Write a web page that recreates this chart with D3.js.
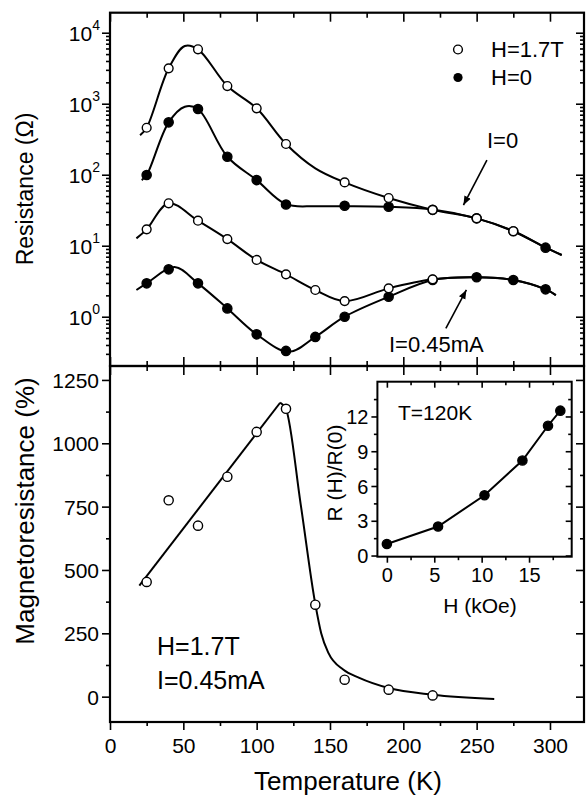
<!DOCTYPE html>
<html>
<head>
<meta charset="utf-8">
<script src="https://cdn.jsdelivr.net/npm/d3@7"></script>
<style>
  body { margin: 0; background: #fff; }
  text { font-family: "Liberation Sans", Arial, Helvetica, sans-serif; fill: #000; }
</style>
</head>
<body>
<div id="chart"></div>
<script>
// Resistance, I = 0
const tOpenI0 = [25, 40, 60, 80, 100, 120, 160, 190, 220, 250, 275];
const rOpenI0 = [459, 3150, 5840, 1775, 861, 271, 78, 47, 32, 24.3, 16];
const tFillI0 = [25, 40, 60, 80, 100, 120, 160, 190, 220, 250, 275, 297];
const rFillI0 = [99, 547, 842, 179, 84, 38, 36.5, 35.4, 32, 24.3, 16, 9.4];
// Resistance, I = 0.45 mA
const tOpenI45 = [25, 40, 60, 80, 100, 120, 140, 160, 190, 220];
const rOpenI45 = [17, 39.6, 22.5, 12.4, 6.3, 3.95, 2.38, 1.66, 2.51, 3.36];
const tFillI45 = [25, 40, 60, 80, 100, 120, 140, 160, 190, 220, 250, 275, 297];
const rFillI45 = [2.95, 4.65, 2.95, 1.31, 0.565, 0.33, 0.52, 1.0, 1.91, 3.3, 3.59, 3.29, 2.43];

// guide curves as drawn in the figure, [T, R]
const fitOpenI0 = [[20.5, 360], [25, 460], [40, 3150], [51, 6500], [60, 5840], [80, 1775], [100, 861], [120, 271], [140, 123], [160, 78], [190, 47], [220, 32], [250, 24.3], [275, 16], [297, 9.4], [308, 7.4]];
const fitFillI0 = [[21.6, 84], [25, 99], [40, 547], [51, 907], [60, 842], [80, 179], [100, 84], [120, 38.5], [140, 36], [160, 36], [190, 35.4], [220, 32.4], [250, 24.3], [275, 16.1], [297, 9.4], [308, 7.4]];
const fitOpenI45 = [[18, 12.7], [25, 17], [40, 39.6], [60, 22.5], [80, 12.4], [100, 6.3], [120, 3.95], [140, 2.38], [160, 1.66], [190, 2.51], [220, 3.36], [250, 3.59], [275, 3.29], [297, 2.43], [304, 2.02]];
const fitFillI45 = [[18, 2.38], [25, 2.95], [44, 5.0], [60, 2.95], [80, 1.31], [100, 0.565], [122, 0.32], [140, 0.52], [160, 1.0], [190, 1.91], [220, 3.3], [250, 3.59], [275, 3.29], [297, 2.43], [304, 2.02]];

// Magnetoresistance at H = 1.7 T
const tMR = [25, 40, 60, 80, 100, 120, 140, 160, 190, 220];
const mr = [453, 775, 675, 868, 1045, 1136, 363, 67, 27.6, 5];
const fitMRRise = [[20, 438], [116, 1160]];
const fitMRFall = [[116, 1160], [120, 1135], [130, 760], [140, 365], [144, 250], [149, 172], [159, 107], [170, 74], [190, 34], [220, 8], [262, -9]];

// inset: R(H)/R(0) at T = 120 K
const fieldH = [0, 5.4, 10.3, 14.3, 17.0, 18.3];
const ratio = [1.0, 2.5, 5.2, 8.2, 11.2, 12.5];

// ticks
const xMajor = [0, 50, 100, 150, 200, 250, 300];
const xMinor = [25, 75, 125, 175, 225, 275];
const rMajor = [1, 10, 100, 1000, 10000];
const mrMajor = [0, 250, 500, 750, 1000, 1250];
const mrMinor = [125, 375, 625, 875, 1125];
const hMajor = [0, 5, 10, 15];
const hMinor = [2.5, 7.5, 12.5, 17.5];
const ratioMajor = [0, 3, 6, 9, 12];
const ratioMinor = [1.5, 4.5, 7.5, 10.5, 13.5];

// annotation arrows in data units [T, R]
const arrowI0 = [[257, 161], [241, 37.4]];
const arrowI45 = [[229, 0.687], [243, 2.38]];

const svg = d3.select("#chart").append("svg")
    .attr("width", 586)
    .attr("height", 798);

const x = d3.scaleLinear().domain([0, 323.2]).range([110, 584]);
const yR = d3.scaleLog().domain([Math.pow(10, -0.694), Math.pow(10, 4.282)]).range([366, 12.7]);
const yM = d3.scaleLinear().domain([-100, 1305]).range([722, 366]);
const xi = d3.scaleLinear().domain([-1, 19.5]).range([377.4, 571.7]);
const yi = d3.scaleLinear().domain([-0.1, 15]).range([556.7, 381.7]);

const rMinor = [];
for (let k = -1; k <= 4; k++) {
    for (let m = 2; m <= 9; m++) {
        const v = m * Math.pow(10, k);
        if (v > yR.domain()[0] && v < yR.domain()[1]) rMinor.push(v);
    }
}

svg.append("defs").append("marker")
    .attr("id", "head")
    .attr("viewBox", "0 0 10 10")
    .attr("refX", 10).attr("refY", 5)
    .attr("markerWidth", 9).attr("markerHeight", 9)
    .attr("markerUnits", "userSpaceOnUse")
    .attr("orient", "auto")
    .append("path").attr("d", "M0,1 L10,5 L0,9 Z").attr("fill", "#000");

// one row of ticks, optionally labelled
function tickRow(axisFn, scale, values, size, pos, fmt) {
    const vertical = axisFn === d3.axisLeft || axisFn === d3.axisRight;
    const g = svg.append("g")
        .attr("transform", vertical ? `translate(${pos},0)` : `translate(0,${pos})`)
        .call(axisFn(scale).tickValues(values).tickSize(size).tickFormat(fmt || (() => "")))
        .attr("font-family", null).attr("font-size", null);
    g.select(".domain").remove();
    g.selectAll("line").attr("stroke", "#000").attr("stroke-width", 1.6);
    return g;
}

function frame(xs, ys, w) {
    svg.append("rect")
        .attr("x", xs.range()[0]).attr("y", ys.range()[1])
        .attr("width", xs.range()[1] - xs.range()[0])
        .attr("height", ys.range()[0] - ys.range()[1])
        .attr("fill", "none").attr("stroke", "#000").attr("stroke-width", w);
}

// ---- top panel: resistance ----
tickRow(d3.axisBottom, x, xMajor, 9, 12.7);
tickRow(d3.axisBottom, x, xMinor, 5, 12.7);
tickRow(d3.axisTop, x, xMajor, 9, 366);
tickRow(d3.axisTop, x, xMinor, 5, 366);
tickRow(d3.axisLeft, yR, rMajor, 8, 110);
tickRow(d3.axisLeft, yR, rMinor, 4, 110);
tickRow(d3.axisLeft, yR, rMajor, 8, 584);
tickRow(d3.axisLeft, yR, rMinor, 4, 584);

rMajor.forEach(v => {
    const t = svg.append("text")
        .attr("x", 100).attr("y", yR(v) + 8.5)
        .attr("text-anchor", "end");
    t.append("tspan").attr("font-size", 21).text("10");
    t.append("tspan").attr("font-size", 14).attr("dy", -11).text(Math.round(Math.log10(v)));
});

const lineR = d3.line()
    .x(d => x(d[0]))
    .y(d => yR(d[1]))
    .curve(d3.curveCatmullRom.alpha(0.5));

[fitFillI0, fitOpenI0, fitFillI45, fitOpenI45].forEach(f => {
    svg.append("path").datum(f)
        .attr("d", lineR)
        .attr("fill", "none").attr("stroke", "#000").attr("stroke-width", 2);
});

function dots(ts, vs, xs, ys, open, r) {
    svg.append("g").selectAll("circle")
        .data(ts.map((t, i) => [t, vs[i]]))
        .join("circle")
        .attr("cx", d => xs(d[0]))
        .attr("cy", d => ys(d[1]))
        .attr("r", r)
        .attr("fill", open ? "#fff" : "#000")
        .attr("stroke", "#000").attr("stroke-width", 1.4);
}

dots(tFillI0, rFillI0, x, yR, false, 4.6);
dots(tOpenI0, rOpenI0, x, yR, true, 4.4);
dots(tFillI45, rFillI45, x, yR, false, 4.6);
dots(tOpenI45, rOpenI45, x, yR, true, 4.4);

// legend
svg.append("circle").attr("cx", 458).attr("cy", 49.5).attr("r", 4.4)
    .attr("fill", "#fff").attr("stroke", "#000").attr("stroke-width", 1.4);
svg.append("circle").attr("cx", 458).attr("cy", 77.5).attr("r", 4.6).attr("fill", "#000");
svg.append("text").attr("x", 491).attr("y", 57).attr("font-size", 22).text("H=1.7T");
svg.append("text").attr("x", 491).attr("y", 85).attr("font-size", 22).text("H=0");

// arrows and their labels
[arrowI0, arrowI45].forEach(a => {
    svg.append("line")
        .attr("x1", x(a[0][0])).attr("y1", yR(a[0][1]))
        .attr("x2", x(a[1][0])).attr("y2", yR(a[1][1]))
        .attr("stroke", "#000").attr("stroke-width", 1.6)
        .attr("marker-end", "url(#head)");
});
svg.append("text").attr("x", 487).attr("y", 148).attr("font-size", 22).text("I=0");
svg.append("text").attr("x", 389).attr("y", 352).attr("font-size", 22).text("I=0.45mA");

svg.append("text")
    .attr("transform", "translate(33,189) rotate(-90)")
    .attr("text-anchor", "middle").attr("font-size", 23)
    .text("Resistance (\u03A9)");

frame(x, yR, 2.2);

// ---- bottom panel: magnetoresistance ----
tickRow(d3.axisBottom, x, xMajor, 9, 366);
tickRow(d3.axisBottom, x, xMinor, 5, 366);
tickRow(d3.axisBottom, x, xMajor, 8, 722, d3.format("d"))
    .selectAll("text").attr("dy", null).attr("y", 31).attr("font-size", 21);
tickRow(d3.axisBottom, x, xMinor, 4, 722);
tickRow(d3.axisLeft, yM, mrMajor, 8, 110, d3.format("d"))
    .selectAll("text").attr("dy", null).attr("x", -11).attr("y", 7.5).attr("font-size", 21);
tickRow(d3.axisLeft, yM, mrMinor, 4, 110);
tickRow(d3.axisLeft, yM, mrMajor, 8, 584);
tickRow(d3.axisLeft, yM, mrMinor, 4, 584);

const lineM = d3.line().x(d => x(d[0])).y(d => yM(d[1]));
svg.append("path").datum(fitMRRise).attr("d", lineM)
    .attr("fill", "none").attr("stroke", "#000").attr("stroke-width", 2);
svg.append("path").datum(fitMRFall).attr("d", lineM.curve(d3.curveMonotoneX))
    .attr("fill", "none").attr("stroke", "#000").attr("stroke-width", 2);
dots(tMR, mr, x, yM, true, 4.6);

svg.append("text").attr("x", 157).attr("y", 655).attr("font-size", 25).text("H=1.7T");
svg.append("text").attr("x", 157).attr("y", 688.5).attr("font-size", 25).text("I=0.45mA");

svg.append("text")
    .attr("transform", "translate(34,511) rotate(-90)")
    .attr("text-anchor", "middle").attr("font-size", 26)
    .text("Magnetoresistance (%)");
svg.append("text")
    .attr("x", 348).attr("y", 790)
    .attr("text-anchor", "middle").attr("font-size", 26)
    .text("Temperature (K)");

frame(x, yM, 2.2);

// ---- inset ----
svg.append("rect")
    .attr("x", xi.range()[0]).attr("y", yi.range()[1])
    .attr("width", xi.range()[1] - xi.range()[0])
    .attr("height", yi.range()[0] - yi.range()[1])
    .attr("fill", "#fff");
tickRow(d3.axisBottom, xi, hMajor, 6, 556.7, d3.format("d"))
    .selectAll("text").attr("dy", null).attr("y", 25.5).attr("font-size", 20);
tickRow(d3.axisBottom, xi, hMinor, 3.5, 556.7);
tickRow(d3.axisBottom, xi, hMajor, 6, 381.7);
tickRow(d3.axisBottom, xi, hMinor, 3.5, 381.7);
tickRow(d3.axisLeft, yi, ratioMajor, 6, 377.4, d3.format("d"))
    .selectAll("text").attr("dy", null).attr("x", -9).attr("y", 7).attr("font-size", 20);
tickRow(d3.axisLeft, yi, ratioMinor, 3.5, 377.4);
tickRow(d3.axisLeft, yi, ratioMajor, 6, 571.7);
tickRow(d3.axisLeft, yi, ratioMinor, 3.5, 571.7);

svg.append("path").datum(fieldH.map((h, i) => [h, ratio[i]]))
    .attr("d", d3.line().x(d => xi(d[0])).y(d => yi(d[1])))
    .attr("fill", "none").attr("stroke", "#000").attr("stroke-width", 2);
dots(fieldH, ratio, xi, yi, false, 4.6);

svg.append("text").attr("x", 398).attr("y", 420).attr("font-size", 21).text("T=120K");
svg.append("text").attr("x", 480).attr("y", 613)
    .attr("text-anchor", "middle").attr("font-size", 21).text("H (kOe)");
svg.append("text")
    .attr("transform", "translate(342,473) rotate(-90)")
    .attr("text-anchor", "middle").attr("font-size", 21)
    .text("R (H)/R(0)");

frame(xi, yi, 2);
</script>
</body>
</html>
